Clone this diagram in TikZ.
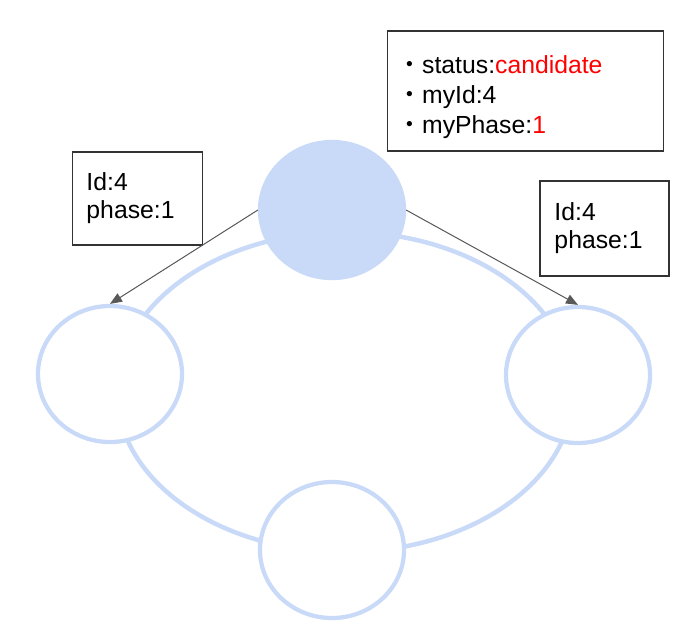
\documentclass[tikz,border=0pt]{standalone}
\usepackage{fontspec}
\setmainfont{Liberation Sans}
\newfontfamily\cjkdot{Noto Sans CJK JP}
\usepackage{xcolor}
\definecolor{ringBlue}{HTML}{C9DAF8}
\definecolor{arrowGray}{HTML}{595959}
\definecolor{boxLine}{HTML}{333333}
\definecolor{valueRed}{HTML}{FF0000}
\usetikzlibrary{
    shapes.geometric,
    arrows.meta,
    positioning
}
\newcommand{\dotitem}{{\cjkdot ・}}
\tikzset{
    % Base text for every label
    label base/.style={
        font=\fontsize{17.6}{20}\selectfont,
        text=black,
    },
    % Candidate node - filled circle
    leader node/.style={
        ellipse,
        fill=ringBlue,
        draw=ringBlue,
        line width=3pt,
        minimum width=3.6cm,
        minimum height=3.4cm,
    },
    % Other nodes - open circle
    peer node/.style={
        ellipse,
        fill=white,
        draw=ringBlue,
        line width=3pt,
        minimum width=3.6cm,
        minimum height=3.4cm,
    },
    % Note boxes
    info box/.style={
        label base,
        rectangle,
        draw=boxLine,
        line width=0.8pt,
        align=left,
        inner ysep=0pt,
    },
    % Message arrow
    msg arrow/.style={
        -{Triangle[length=3mm, width=2.4mm]},
        line width=0.7pt,
        draw=arrowGray,
        fill=arrowGray,
    },
}

\begin{document}
\begin{tikzpicture}[x=0.025cm, y=-0.025cm]
    \useasboundingbox (0,0) rectangle (694,640);

    % ring behind the nodes
    \draw [ringBlue, line width=3.2pt] (345,392) ellipse [x radius=5.7cm, y radius=4cm];

    \node (leader) [leader node] at (332,210) {};
    \node (peerL) [peer node] at (110,374) {};
    \node (peerR) [peer node] at (578,375) {};
    \node (peerB) [peer node] at (332,550) {};

    \node (state) [info box, minimum width=6.875cm, minimum height=3cm,
        text width=6.4cm, inner xsep=0.24cm,
        font=\fontsize{17.6}{21.3}\selectfont] at (525.5,91)
        {\rule{0pt}{21pt}\dotitem status:\textcolor{valueRed}{candidate}\\
         \dotitem myId:4\\
         \dotitem myPhase:\textcolor{valueRed}{1}};
    \node (msgL) [info box, minimum width=3.225cm, minimum height=2.325cm,
        text width=2.55cm, inner xsep=0.34cm] at (137.5,198.5) {Id:4\\phase:1};
    \node (msgR) [info box, minimum width=3.225cm, minimum height=2.375cm,
        text width=2.5cm, inner xsep=0.36cm] at (604.5,228.5) {Id:4\\phase:1};

    \draw [msg arrow] (leader.west) -- (peerL.north);
    \draw [msg arrow] (leader.east) -- (peerR.north);
\end{tikzpicture}
\end{document}
